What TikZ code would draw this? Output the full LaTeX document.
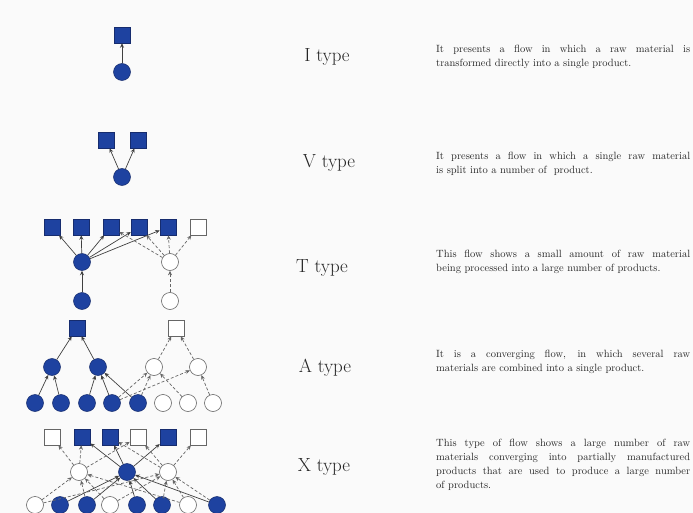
\documentclass[tikz,border=0pt]{standalone}
\usepackage{tikz}
\usetikzlibrary{arrows.meta}
\definecolor{flowblue}{RGB}{30,66,160}
\definecolor{flowedge}{RGB}{22,44,110}
\tikzset{
  % product / material nodes
  fsq/.style  ={draw=flowedge, fill=flowblue, minimum size=16pt,
                inner sep=0pt, line width=0.5pt},
  esq/.style  ={draw=black!60, fill=white, minimum size=16pt,
                inner sep=0pt, line width=0.6pt},
  fcir/.style ={draw=flowedge, fill=flowblue, circle, minimum size=17pt,
                inner sep=0pt, line width=0.5pt},
  ecir/.style ={draw=black!60, fill=white, circle, minimum size=17pt,
                inner sep=0pt, line width=0.6pt},
  sflow/.style={-{Stealth[length=4.5pt,width=4pt]}, line width=0.7pt,
                black!75},
  dflow/.style={-{Stealth[length=4.5pt,width=4pt]}, line width=0.7pt,
                black!60, densely dashed},
  tname/.style={font=\fontsize{19}{22}\selectfont, text=black!85},
  tdesc/.style={font=\fontsize{10.5}{14}\selectfont, text=black!85,
                text width=254pt, align=justify, anchor=west, inner sep=0pt},
}

\begin{document}
\begin{tikzpicture}[x=1pt, y=-1pt]
  \fill[black!2] (0,0) rectangle (693,513);
  \useasboundingbox (0,0) rectangle (693,513);
  % I type
  \node[fsq]  (isq)  at (122,35) {};
  \node[fcir] (icir) at (122,72) {};
  \draw[sflow] (icir) -- (isq);
  \node[tname] (iname) at (327,57) {I type};
  \node[tdesc] (idesc) at (436,57)
    {It presents a flow in which a raw material is\linebreak
     transformed directly into a single product.};
  % V type
  \node[fsq]  (vq1)  at (106,140) {};
  \node[fsq]  (vq2)  at (138,140) {};
  \node[fcir] (vcir) at (122,177) {};
  \draw[sflow] (vcir) -- (vq1);
  \draw[sflow] (vcir) -- (vq2);
  \node[tname] (vname) at (329,163) {V type};
  \node[tdesc] (vdesc) at (436,164)
    {It presents a flow in which a single raw material\linebreak
     is split into a number of~ product.};
  % T type
  \foreach \i/\x/\s in {1/52/fsq,2/81/fsq,3/111/fsq,4/139/fsq,5/168/fsq,6/198/esq}
    \node[\s] (tq\i) at (\x,227) {};
  \node[fcir] (tcf) at (82,262) {};
  \node[ecir] (tce) at (170,262) {};
  \node[fcir] (tbf) at (82,301) {};
  \node[ecir] (tbe) at (170,301) {};
  \draw[sflow] (tbf) -- (tcf);
  \draw[dflow] (tbe) -- (tce);
  \foreach \i in {1,...,5}
    \draw[sflow] (tcf) -- (tq\i);
  \foreach \i in {3,...,6}
    \draw[dflow] (tce) -- (tq\i);
  \node[tname] (tname) at (322,268) {T type};
  \node[tdesc] (tdesc) at (436,262)
    {This flow shows a small amount of raw material\linebreak
     being processed into a large number of products.};
  % A type
  \node[fsq] (asf) at (77,328) {};
  \node[esq] (ase) at (176,328) {};
  \node[fcir] (am1) at (52,367) {};
  \node[fcir] (am2) at (98,367) {};
  \node[ecir] (am3) at (154,367) {};
  \node[ecir] (am4) at (198,367) {};
  \foreach \i/\x/\s in {1/35/fcir,2/61/fcir,3/87/fcir,4/112/fcir,5/138/fcir,
                         6/163/ecir,7/188/ecir,8/213/ecir}
    \node[\s] (ab\i) at (\x,403) {};
  \draw[sflow] (am1) -- (asf);
  \draw[sflow] (am2) -- (asf);
  \draw[dflow] (am3) -- (ase);
  \draw[dflow] (am4) -- (ase);
  \draw[sflow] (ab1) -- (am1);
  \draw[sflow] (ab2) -- (am1);
  \draw[sflow] (ab3) -- (am2);
  \draw[sflow] (ab4) -- (am2);
  \draw[sflow] (ab5) -- (am2);
  \draw[dflow] (ab4) -- (am3);
  \draw[dflow] (ab5) -- (am3);
  \draw[dflow] (ab7) -- (am3);
  \draw[dflow] (ab4) -- (am4);
  \draw[dflow] (ab8) -- (am4);
  \node[tname] (aname) at (325,368) {A type};
  \node[tdesc] (adesc) at (436,362)
    {It is a converging flow, in which several raw\linebreak
     materials are combined into a single product.};
  % X type
  \foreach \i/\x/\s in {1/52/esq,2/82/fsq,3/110/fsq,4/138/esq,5/168/fsq,6/198/esq}
    \node[\s] (xq\i) at (\x,437) {};
  \node[ecir] (xm1) at (79,472) {};
  \node[fcir] (xm2) at (127,472) {};
  \node[ecir] (xm3) at (168,472) {};
  \foreach \i/\x/\s in {1/35/ecir,2/60/fcir,3/87/fcir,4/110/ecir,5/137/fcir,
                         6/162/fcir,7/188/ecir,8/217/fcir}
    \node[\s] (xb\i) at (\x,505) {};
  \foreach \i in {2,3,5}
    \draw[sflow] (xm2) -- (xq\i);
  \foreach \i in {1,2,4}
    \draw[dflow] (xm1) -- (xq\i);
  \foreach \i in {3,4,6}
    \draw[dflow] (xm3) -- (xq\i);
  \foreach \i in {2,3,5,6,8}
    \draw[sflow] (xb\i) -- (xm2);
  \foreach \i in {1,3,4,7}
    \draw[dflow] (xb\i) -- (xm1);
  \foreach \i in {1,4,6,7,8}
    \draw[dflow] (xb\i) -- (xm3);
  \node[tname] (xname) at (324,467) {X type};
  \node[tdesc] (xdesc) at (436,465)
    {This type of flow shows a large number of raw\linebreak
     materials converging into partially manufactured\linebreak
     products that are used to produce a large number\linebreak
     of products.};
\end{tikzpicture}
\end{document}
